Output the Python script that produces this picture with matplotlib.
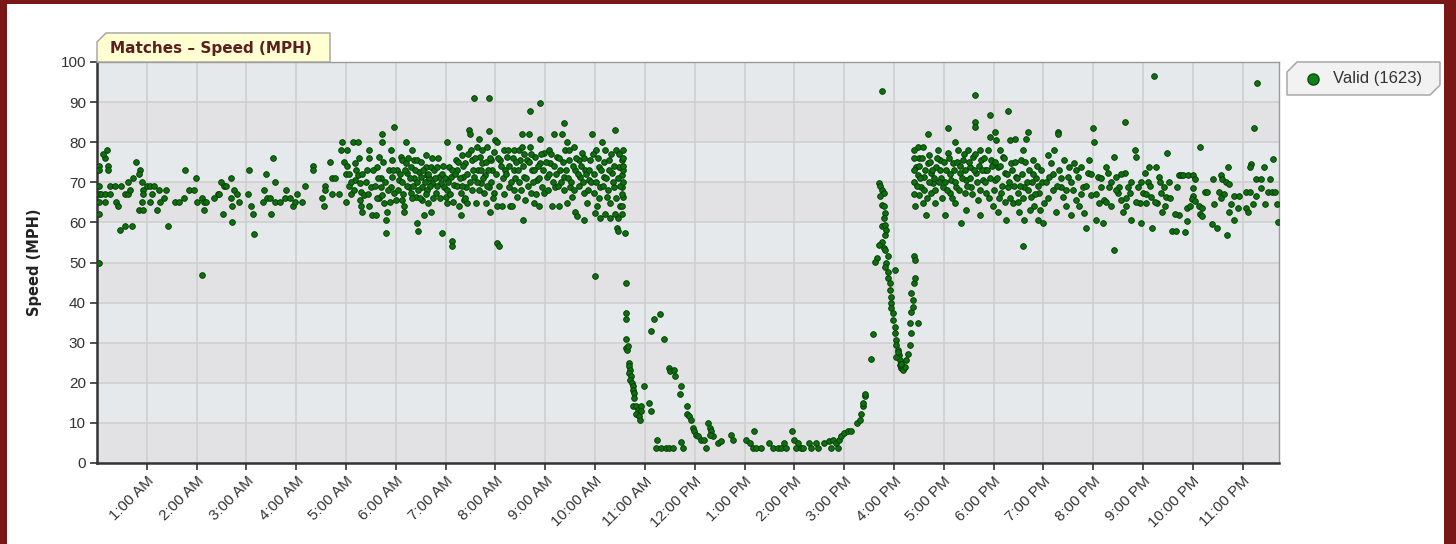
import numpy as np
import matplotlib.pyplot as plt
from matplotlib.patches import Polygon, Rectangle

night_h = [0.05, 0.05, 0.16, 0.20, 0.12, 0.22, 0.22, 0.05, 0.05, 0.09, 0.16, 0.05, 0.16, 0.05, 0.05,
           0.26, 0.26, 0.36, 0.49, 0.39, 0.43, 0.46, 0.56, 0.70, 0.56, 0.63, 0.66, 0.63, 0.72, 0.78,
           0.86, 0.85, 0.90, 0.93, 0.93, 0.90, 0.85, 0.93, 1.00, 1.07, 1.10, 1.07, 1.14, 1.20, 1.24,
           1.27, 1.34, 1.39, 1.42, 1.57, 1.64, 1.74, 1.76, 1.84, 1.95, 1.98, 2.01, 2.11, 2.15, 2.18,
           2.15, 2.11, 2.35, 2.42, 2.49, 2.52, 2.45, 2.55, 2.59, 2.69, 2.69, 2.72, 2.72, 2.76, 2.82,
           2.86, 3.03, 3.06, 3.09, 3.13, 3.16, 3.33, 3.36, 3.39, 3.42, 3.47, 3.50, 3.53, 3.57, 3.57,
           3.67, 3.77, 3.80, 3.87, 3.94, 3.97, 4.01, 4.11, 4.18, 4.34, 4.34, 4.51, 4.55, 4.58, 4.58,
           4.68, 4.72, 4.72, 4.78, 4.85, 4.89, 4.92, 4.95, 4.99, 5.02, 5.02, 4.99, 5.05, 5.09, 5.05]
night_v = [74, 73, 76, 78, 77, 74, 73, 69, 67, 67, 67, 65, 65, 62, 50,
           67, 69, 69, 69, 65, 64, 58, 59, 59, 67, 67, 68, 70, 71, 75,
           73, 72, 70, 68, 67, 65, 63, 63, 69, 69, 67, 65, 69, 63, 68,
           65, 66, 68, 59, 65, 65, 66, 73, 68, 68, 71, 65, 66, 65, 65,
           63, 47, 66, 67, 70, 62, 67, 69, 69, 71, 66, 64, 60, 68, 67,
           65, 67, 73, 64, 62, 57, 65, 68, 72, 66, 66, 62, 76, 70, 65,
           65, 66, 68, 66, 64, 65, 67, 65, 69, 74, 73, 66, 64, 69, 68,
           75, 71, 67, 71, 67, 78, 80, 75, 65, 78, 74, 72, 72, 67, 69]

morning_h = [5.13, 5.23, 5.17, 5.20, 5.23, 5.17, 5.27, 5.30, 5.27, 5.30, 5.33, 5.37, 5.47, 5.47, 5.43,
             5.50, 5.47, 5.53, 5.60, 5.63, 5.67, 5.70, 5.70, 5.67, 5.73, 5.73, 5.73, 5.77, 5.80, 5.80,
             5.83, 5.87, 5.90, 5.93, 5.90, 5.93, 5.97, 5.97, 6.00,
             6.03, 6.07, 6.10, 6.13, 6.13, 6.17, 6.17, 6.20, 6.20, 6.23, 6.27, 6.30, 6.30, 6.33, 6.37,
             6.37, 6.40, 6.42, 6.43, 6.45, 6.47, 6.50, 6.53, 6.53, 6.57, 6.60, 6.60, 6.62, 6.63, 6.65,
             6.67, 6.70, 6.70, 6.73, 6.77, 6.80, 6.83, 6.87, 6.90, 6.93, 6.97, 7.00,
             7.03, 7.03, 7.07, 7.10, 7.13, 7.13, 7.17, 7.20, 7.23, 7.27, 7.27, 7.30, 7.31, 7.33, 7.35,
             7.37, 7.38, 7.40, 7.43, 7.47, 7.49, 7.50, 7.53, 7.57, 7.57, 7.60, 7.63, 7.65, 7.67, 7.69,
             7.70, 7.73, 7.77, 7.78, 7.80, 7.83, 7.87, 7.87, 7.87, 7.89, 7.90, 7.93, 7.97, 7.98,
             8.00, 8.03, 8.03, 8.07, 8.03, 8.10, 8.13, 8.17, 8.20, 8.23, 8.27, 8.30, 8.33, 8.37, 8.37,
             8.40, 8.43, 8.47, 8.50, 8.53, 8.53, 8.55, 8.57, 8.60, 8.63, 8.67, 8.69, 8.70, 8.71, 8.73,
             8.77, 8.80, 8.83, 8.87, 8.89, 8.90, 8.90, 8.93, 8.97, 8.98,
             9.03, 9.07, 9.10, 9.13, 9.17, 9.20, 9.23, 9.27, 9.30, 9.33, 9.37, 9.38, 9.40, 9.43, 9.43,
             9.47, 9.50, 9.53, 9.57, 9.60, 9.60, 9.63, 9.67, 9.70, 9.73, 9.77, 9.77, 9.80, 9.83, 9.87,
             9.90, 9.93, 9.97, 10.00, 10.02, 10.00,
             10.03, 10.07, 10.10, 10.13, 10.17, 10.20, 10.23, 10.27, 10.30, 10.33, 10.37, 10.40, 10.42,
             10.43, 10.45, 10.47, 10.50, 10.53, 10.55, 10.57, 10.57, 10.60, 10.53]
morning_v = [80.1, 80.1, 74.7, 73.1, 71.8, 70.6, 69.8, 67.7, 65.6, 64.0, 62.7, 66.9, 78.0, 76.0, 73.1,
             68.9, 64.0, 61.9, 61.9, 73.9, 76.4, 71.0, 68.9, 66.0, 82.1, 80.1, 66.9, 64.8, 60.7, 57.4,
             62.7, 73.1, 78.0, 75.5, 68.9, 71.4, 83.8, 67.3, 65.6,
             73.1, 70.6, 76.4, 75.5, 65.6, 64.0, 62.7, 80.1, 74.7, 72.2, 68.9, 73.9, 67.3, 78.0, 75.5,
             71.0, 66.4, 59.8, 75.5, 57.8, 72.6, 71.4, 68.9, 65.6, 61.9, 76.8, 73.9, 71.8, 68.1, 64.8,
             71.0, 62.7, 73.9, 69.8, 73.1, 67.3, 73.9, 71.4, 69.8, 57.4, 68.9, 66.4,
             80.1, 64.8, 73.9, 71.4, 55.3, 54.0, 69.3, 75.5, 73.1, 78.8, 64.0, 61.9, 67.3, 76.8, 71.4,
             65.6, 74.7, 68.9, 64.8, 83.0, 82.1, 78.0, 75.5, 91.0, 71.4, 64.8, 78.8, 73.1, 80.9, 76.4,
             69.8, 74.7, 67.3, 71.8, 64.8, 78.8, 82.8, 91.0, 68.9, 62.7, 75.5, 73.1, 77.6, 67.3,
             80.5, 80.1, 54.9, 54.0, 64.0, 75.5, 64.0, 78.0, 73.1, 76.4, 68.9, 64.0, 64.0, 78.0, 73.1,
             71.0, 66.4, 78.0, 75.5, 82.0, 78.8, 60.7, 71.4, 65.6, 75.5, 82.0, 78.8, 87.8, 67.3, 73.1,
             64.8, 76.4, 70.6, 64.0, 89.8, 80.9, 74.7, 68.9, 77.2, 67.3,
             71.4, 78.0, 74.7, 64.0, 82.0, 68.9, 76.4, 64.0, 73.1, 82.0, 84.9, 71.4, 78.0, 80.1, 64.8,
             75.5, 68.9, 66.4, 78.8, 73.1, 62.7, 61.5, 75.5, 71.4, 77.2, 67.3, 60.7, 73.1, 64.8, 70.6,
             75.5, 82.0, 67.3, 62.3, 78.0, 46.6,
             64.0, 73.9, 68.9, 80.1, 71.4, 78.0, 66.4, 75.5, 64.8, 72.2, 68.9, 83.0, 78.0,
             58.6, 57.8, 73.9, 64.0, 75.5, 71.8, 78.0, 66.4, 57.4, 68.9]

# second pass over the dense morning cloud (overlapping dots)
morning2_h = [5.10, 5.15, 5.25, 5.33, 5.40, 5.45, 5.55, 5.58, 5.62, 5.65, 5.75, 5.78, 5.85, 5.88, 5.95,
              6.05, 6.08, 6.12, 6.15, 6.18, 6.22, 6.25, 6.28, 6.32, 6.35, 6.38, 6.42, 6.45, 6.48, 6.50,
              6.55, 6.58, 6.60, 6.65, 6.68, 6.72, 6.75, 6.78, 6.82, 6.85, 6.88, 6.92, 6.95, 6.98,
              7.02, 7.05, 7.08, 7.12, 7.15, 7.18, 7.22, 7.25, 7.28, 7.32, 7.35, 7.38, 7.42, 7.45, 7.48,
              7.52, 7.55, 7.58, 7.62, 7.66, 7.70, 7.72, 7.75, 7.80, 7.82, 7.85, 7.88, 7.92, 7.95,
              8.02, 8.05, 8.08, 8.12, 8.15, 8.18, 8.22, 8.25, 8.28, 8.32, 8.35, 8.38, 8.42, 8.45, 8.48,
              8.52, 8.55, 8.58, 8.62, 8.65, 8.68, 8.72, 8.75, 8.78, 8.82, 8.85, 8.88, 8.92, 8.95,
              9.02, 9.05, 9.08, 9.12, 9.15, 9.18, 9.22, 9.25, 9.28, 9.32, 9.35, 9.38, 9.42, 9.45, 9.48,
              9.52, 9.55, 9.58, 9.62, 9.65, 9.68, 9.72, 9.75, 9.78, 9.82, 9.85, 9.88, 9.92, 9.95, 9.98,
              10.02, 10.05, 10.08, 10.12, 10.15, 10.18, 10.22, 10.25, 10.28, 10.32, 10.35, 10.38, 10.42,
              10.45, 10.48, 10.50, 10.55, 10.55, 10.56, 10.56, 10.56, 10.55, 10.57, 10.45, 10.40, 10.30,
              10.20, 10.10]
morning2_v = [70, 68, 76, 72, 70, 67, 73, 69, 66, 71, 75, 70, 68, 65, 73,
              68, 72, 70, 67, 73, 69, 76, 71, 66, 69, 73, 70, 68, 66, 75,
              73, 70, 67, 72, 69, 76, 66, 71, 69, 76, 66, 72, 74, 71,
              68, 70, 67, 73, 65, 72, 69, 75, 71, 69, 74, 66, 72, 77, 70,
              68, 73, 76, 70, 68, 73, 78, 71, 75, 69, 73, 76, 70, 66,
              72, 76, 69, 74, 71, 67, 72, 78, 74, 70, 76, 68, 75, 73, 70,
              68, 74, 77, 71, 69, 75, 77, 70, 73, 67, 74, 71, 77, 73,
              75, 68, 72, 77, 70, 74, 72, 69, 76, 70, 75, 68, 73, 71, 78,
              70, 74, 68, 76, 72, 69, 74, 70, 76, 72, 68, 73, 70, 77, 72,
              70, 76, 66, 73, 69, 75, 71, 68, 73, 77, 70, 74, 66,
              71, 77, 69, 64, 67, 70, 73, 76, 62, 74, 61, 62, 61,
              62, 61]

drop_h = [10.62, 10.62, 10.62, 10.62, 10.62, 10.64, 10.66, 10.68, 10.69, 10.71, 10.69, 10.72, 10.71,
          10.74, 10.76, 10.76, 10.78, 10.79, 10.76, 10.82, 10.86, 10.82, 10.89, 10.91, 10.92, 10.92,
          10.99, 11.09, 11.12, 11.12, 11.19, 11.31, 11.38, 11.49, 11.51, 11.59, 11.61, 11.73, 11.71,
          11.85, 11.85, 11.89, 11.93, 11.96, 11.99, 12.03, 12.06, 12.13, 12.19, 12.23, 12.26, 12.30,
          12.33, 12.36, 12.30, 12.46, 12.53, 12.73, 12.76, 11.25, 11.22, 11.33, 11.43, 11.49, 11.56,
          11.73, 11.76, 13.03, 13.10, 13.16, 13.20, 13.23, 13.33, 13.50, 13.57, 13.67, 13.73, 13.80,
          13.83, 13.95, 14.00, 14.03, 14.07, 14.13, 14.17, 14.30, 14.34, 14.44, 14.47, 14.60, 14.70,
          14.74, 14.77, 14.84, 14.87, 14.90, 14.94, 15.00, 15.07, 15.14, 15.26, 15.31, 15.34, 15.37,
          15.37, 15.41, 15.42, 15.54, 15.57]
drop_v = [45.0, 37.3, 35.8, 30.8, 28.8, 28.3, 29.2, 25.0, 24.2, 23.3, 22.5, 21.7, 20.8,
          20.0, 19.2, 18.3, 17.5, 16.2, 14.2, 14.2, 13.3, 12.1, 11.7, 10.8, 14.2, 12.9,
          19.2, 15.0, 12.9, 32.9, 35.8, 37.1, 30.8, 23.7, 22.9, 23.3, 21.7, 19.2, 17.1,
          14.2, 12.1, 11.7, 10.8, 8.7, 7.9, 7.1, 6.7, 5.8, 5.8, 3.7, 10.0, 8.7,
          7.9, 6.7, 7.1, 5.0, 5.4, 7.1, 5.8, 5.8, 3.7, 3.7, 3.7, 3.7, 3.7,
          5.2, 3.7, 5.8, 5.0, 3.7, 7.9, 3.7, 3.7, 5.0, 3.7, 3.7, 3.7, 5.0,
          3.7, 7.9, 5.8, 3.7, 5.0, 3.7, 3.7, 5.0, 3.7, 5.0, 3.7, 5.0, 5.4,
          3.7, 5.8, 5.0, 3.7, 5.8, 6.7, 7.5, 7.9, 7.9, 10.0, 10.8, 12.1, 14.2,
          15.0, 16.7, 17.1, 26.0, 32.1]

spike_h = [15.69, 15.72, 15.75, 15.79, 15.72, 15.75, 15.79, 15.82, 15.79, 15.75, 15.82, 15.85, 15.82,
           15.75, 15.69, 15.79, 15.82, 15.65, 15.62, 15.89, 15.85, 15.82, 16.02, 15.89, 15.89, 15.92,
           15.92, 15.94, 15.95, 15.95, 15.99, 15.99, 16.02, 16.02, 16.04, 16.05, 16.09, 16.10, 16.12,
           16.14, 16.15, 16.19, 16.22, 16.25, 16.29, 16.32, 16.35, 16.32, 16.49, 16.35, 16.39, 16.39,
           16.35, 16.41, 16.42, 16.41, 16.42, 16.05, 16.12, 16.15, 16.09, 15.76]
spike_v = [69.8, 69.0, 68.2, 67.3, 66.5, 64.4, 64.0, 62.3, 61.1, 59.0, 59.4, 58.2, 56.9,
           55.2, 54.4, 53.6, 53.2, 51.1, 50.2, 51.5, 49.8, 49.0, 48.2, 47.7, 46.1, 44.8,
           43.2, 41.5, 39.8, 38.6, 37.3, 35.7, 34.0, 32.3, 30.7, 29.4, 28.2, 26.9, 25.7,
           24.8, 23.6, 23.2, 24.0, 25.7, 27.3, 29.4, 32.3, 34.8, 34.8, 37.7, 39.0, 40.7,
           42.3, 44.8, 46.1, 51.5, 50.7, 26.5, 24.4, 24.8, 27.7, 92.8]

evening_h = [16.48, 16.58, 16.45, 16.48, 16.51, 16.55, 16.51, 16.58, 16.65, 16.61, 16.68, 16.68, 16.71,
             16.75, 16.75, 16.78, 16.82, 16.85, 16.88, 16.92, 16.95, 16.98, 17.02, 17.05, 17.08, 17.08,
             17.12, 17.15, 17.18, 17.22, 17.22, 17.25, 17.28, 17.32, 17.35, 17.38, 17.42, 17.45, 17.45,
             17.48, 17.52, 17.55, 17.58, 17.62, 17.63, 17.63, 17.65, 17.68, 17.72, 17.72, 17.75, 17.78,
             17.82, 17.85, 17.89, 17.92, 17.92, 17.95, 17.99, 18.02, 18.02, 18.05, 18.09, 18.09, 18.12,
             18.15, 18.19, 18.22, 18.25, 18.29, 18.29, 18.32, 18.35, 18.39, 18.42, 18.45, 18.49, 18.52,
             18.55, 18.59, 18.59, 18.62, 18.62, 18.65, 18.69, 18.72, 18.75, 18.79, 18.82, 18.85, 18.89,
             18.92, 18.95, 18.99, 19.02, 19.09, 19.12, 19.15, 19.19, 19.22, 19.25, 19.29, 19.29, 19.32,
             19.36, 19.39, 19.42, 19.46, 19.49, 19.52, 19.56, 19.59, 19.62, 19.66, 19.69, 19.72, 19.76,
             19.79, 19.82, 19.86, 19.89, 19.92, 19.96, 19.99, 20.02, 20.06, 20.09, 20.12, 20.16, 20.19,
             20.22, 20.26, 20.29, 20.32, 20.36, 20.42, 20.42, 20.46, 20.49, 20.52, 20.56, 20.59, 20.63,
             20.63, 20.66, 20.69, 20.73, 20.76, 20.83, 20.86, 20.89, 20.93, 20.96, 20.99, 21.03, 21.06,
             21.09, 21.13, 21.16, 21.19, 21.23, 21.26, 21.29, 21.33, 21.36, 21.39, 21.43, 21.46, 21.49,
             21.53, 21.59, 21.66, 21.69, 21.73, 21.73, 21.76]
evening_v = [78.7, 78.7, 73.9, 71.8, 76.0, 68.9, 66.9, 64.8, 61.9, 71.4, 82.1, 74.7, 76.8,
             72.2, 67.3, 69.8, 64.8, 73.9, 78.0, 75.5, 71.0, 68.9, 61.9, 73.1, 83.6, 77.2,
             67.3, 70.6, 74.7, 80.1, 64.8, 68.9, 78.0, 72.2, 59.8, 75.5, 67.3, 63.1, 70.6,
             78.0, 73.9, 68.9, 76.4, 85.0, 83.8, 91.8, 72.2, 65.6, 78.0, 61.9, 75.5, 70.6,
             73.1, 67.3, 78.0, 86.7, 81.3, 75.5, 64.0, 82.6, 70.6, 80.5, 73.9, 62.7, 78.0,
             67.3, 76.4, 72.2, 60.7, 87.8, 68.9, 80.5, 74.7, 64.8, 80.9, 71.4, 67.3, 62.7,
             75.5, 78.0, 54.0, 60.7, 68.9, 80.9, 82.6, 73.1, 66.4, 75.5, 64.0, 71.0, 60.7,
             67.3, 73.1, 59.8, 64.8, 76.8, 71.4, 74.7, 68.1, 78.0, 62.7, 82.6, 82.0, 73.1,
             68.9, 66.4, 75.5, 64.0, 71.4, 73.9, 61.9, 68.1, 74.7, 65.6, 71.4, 64.0, 73.9,
             68.9, 62.3, 58.6, 72.2, 75.5, 66.9, 83.6, 80.1, 60.7, 71.4, 64.8, 68.9, 59.8,
             65.6, 73.9, 72.2, 68.9, 64.0, 53.0, 76.4, 71.4, 67.3, 68.9, 65.6, 62.7, 85.0,
             72.2, 64.0, 68.9, 67.3, 60.7, 78.0, 76.4, 68.9, 64.8, 59.8, 67.3, 72.2, 64.8,
             70.0, 73.9, 66.4, 58.6, 96.6, 73.9, 64.8, 71.4, 67.3, 62.7, 68.9, 66.4, 77.2,
             70.0, 57.8, 57.8, 68.9, 61.9, 71.8, 71.8]

# second pass over the dense evening cloud
evening2_h = [16.40, 16.40, 16.40, 16.40, 16.40, 16.42, 16.47, 16.50, 16.53, 16.57, 16.60, 16.63, 16.66,
              16.70, 16.73, 16.77, 16.80, 16.83, 16.87, 16.90, 16.93, 16.97,
              17.00, 17.03, 17.07, 17.10, 17.13, 17.17, 17.20, 17.23, 17.27, 17.30, 17.33, 17.37, 17.40,
              17.43, 17.47, 17.50, 17.53, 17.57, 17.60, 17.63, 17.67, 17.70, 17.73, 17.77, 17.80, 17.83,
              17.87, 17.90, 17.93, 17.97,
              18.00, 18.03, 18.07, 18.10, 18.13, 18.17, 18.20, 18.23, 18.27, 18.30, 18.33, 18.37, 18.40,
              18.43, 18.47, 18.50, 18.53, 18.57, 18.60, 18.63, 18.67, 18.70, 18.73, 18.77, 18.80, 18.83,
              18.87, 18.90, 18.93, 18.97,
              19.05, 19.10, 19.20, 19.27, 19.35, 19.45, 19.55, 19.65, 19.75, 19.85, 19.95, 20.05, 20.15,
              20.25, 20.35, 20.45, 20.55, 20.65, 20.75, 20.85, 20.95, 21.05, 21.15, 21.25, 21.35, 21.45,
              21.55, 21.65]
evening2_v = [67, 70, 73, 76, 78, 64, 69, 74, 71, 76, 68, 73, 66,
              70, 75, 73, 71, 68, 76, 70, 73, 66,
              75, 70, 68, 76, 72, 66, 73, 70, 75, 68, 74, 71, 77,
              73, 69, 75, 71, 67, 73, 77, 70, 74, 68, 73, 76, 70,
              73, 66, 71, 74,
              68, 75, 71, 66, 74, 69, 76, 65, 72, 70, 66, 73, 69,
              75, 71, 65, 69, 72, 66, 75, 70, 68, 63, 70, 72, 67,
              74, 69, 63, 70,
              70, 66, 72, 69, 71, 68, 70, 73, 67, 69, 72, 67, 71,
              65, 70, 68, 72, 66, 70, 65, 70, 67, 69, 65, 70, 64,
              66, 62]

late_h = [21.81, 21.91, 22.01, 22.05, 22.01, 22.01, 21.98, 22.05, 21.88, 21.95, 22.12, 22.18, 22.15,
          22.18, 22.25, 21.84, 21.88, 22.15, 22.71, 22.56, 22.59, 22.41, 22.66, 22.73, 22.29, 22.52,
          22.63, 22.56, 22.83, 22.93, 22.76, 22.90, 22.42, 22.39, 22.49, 22.69, 22.83, 22.73, 23.29,
          23.22, 23.17, 23.15, 23.43, 23.61, 23.27, 23.37, 23.54, 23.37, 23.51, 23.58, 23.65, 23.07,
          23.14, 23.27, 23.20, 23.44, 23.68, 23.07, 23.10, 23.71]
late_v = [71.7, 71.7, 71.7, 70.8, 68.7, 66.7, 65.8, 65.4, 63.7, 64.2, 64.2, 63.7, 62.1,
          61.7, 67.5, 57.5, 60.4, 78.7, 73.7, 71.7, 70.8, 70.8, 70.0, 69.6, 67.5, 67.5,
          67.1, 66.2, 66.7, 66.7, 64.6, 63.7, 64.6, 59.6, 58.7, 56.9, 60.7, 62.5, 94.7,
          83.6, 74.6, 73.7, 73.7, 75.7, 70.8, 70.8, 70.8, 68.7, 67.5, 67.5, 67.5, 67.5,
          67.5, 66.7, 64.6, 64.6, 64.6, 63.7, 62.5, 60.0]

tick_hours = list(range(1, 24))
tick_labels = [f"{(h - 1) % 12 + 1}:00 {'AM' if h < 12 else 'PM'}" for h in tick_hours]

hours = np.concatenate([night_h, morning_h, morning2_h, drop_h, spike_h, evening_h, evening2_h, late_h])
speeds = np.concatenate([night_v, morning_v, morning2_v, drop_v, spike_v, evening_v, evening2_v, late_v])

W, H = 1456, 544
plt.rcParams['font.family'] = ['Liberation Sans', 'DejaVu Sans']
fig = plt.figure(figsize=(W / 100, H / 100), dpi=100)
fig.patch.set_facecolor('white')


def fx(px):
    return px / W


def fy(py):
    return 1 - py / H


# dark red page frame
red = '#7B1616'
fig.add_artist(Rectangle((0, 0), fx(7), 1, transform=fig.transFigure, color=red, lw=0))
fig.add_artist(Rectangle((0, fy(4)), 1, 4 / H, transform=fig.transFigure, color=red, lw=0))
fig.add_artist(Rectangle((fx(1444), 0), fx(12), 1, transform=fig.transFigure, color=red, lw=0))

ax = fig.add_axes([fx(97), fy(463), (1279 - 97) / W, (463 - 62) / H])

for lo in range(0, 100, 10):
    c = '#E2E2E4' if (lo // 10) % 2 == 0 else '#E6E9EC'
    ax.axhspan(lo, lo + 10, color=c, zorder=0, lw=0)

ax.scatter(hours, speeds, s=17, facecolor='#0F6E0F', edgecolor='#003A00', linewidths=0.6, zorder=3)

ax.set_xlim(0, 23.73)
ax.set_ylim(0, 100)
ax.set_yticks(range(0, 101, 10))
ax.set_xticks(tick_hours)
ax.set_xticklabels(tick_labels, rotation=45, ha='right', rotation_mode='anchor')
ax.grid(True, color='#CFCFCF', lw=1.2)
ax.set_axisbelow(True)
ax.tick_params(direction='out', length=5, width=1.2, colors='#333333', pad=3)
ax.tick_params(axis='x', labelsize=11)
ax.tick_params(axis='y', labelsize=11)
for s in ['left', 'bottom']:
    ax.spines[s].set_color('#333333')
    ax.spines[s].set_linewidth(1.8)
for s in ['top', 'right']:
    ax.spines[s].set_color('#9A9A9A')
    ax.spines[s].set_linewidth(1.0)
ax.set_ylabel('Speed (MPH)', fontsize=10.5, fontweight='bold', color='#222222', family='DejaVu Sans')
ax.yaxis.set_label_coords((42 - 97) / 1182, 0.5)

# title tab
tab = [(97, 62), (97, 42), (106, 33), (330, 33), (330, 62)]
fig.add_artist(Polygon([(fx(x), fy(y)) for x, y in tab], closed=True, transform=fig.transFigure,
                       facecolor='#FFFFD2', edgecolor='#A0A0A0', lw=1))
fig.text(fx(110), fy(48), 'Matches \u2013 Speed (MPH)', fontsize=11, fontweight='bold',
         color='#5C1F1F', va='center', ha='left', family='DejaVu Sans')

# legend box
leg = [(1287, 95), (1287, 72), (1297, 62), (1440, 62), (1440, 85), (1430, 95)]
fig.add_artist(Polygon([(fx(x), fy(y)) for x, y in leg], closed=True, transform=fig.transFigure,
                       facecolor='#F2F2F2', edgecolor='#A0A0A0', lw=1))
fig.add_artist(plt.Line2D([fx(1313)], [fy(79)], marker='o', markersize=8, markerfacecolor='#12801A',
                          markeredgecolor='#0A500A', transform=fig.transFigure))
fig.text(fx(1333), fy(79), 'Valid (1623)', fontsize=12, color='#333333', va='center', ha='left')

fig.savefig('out.png', dpi=100)
